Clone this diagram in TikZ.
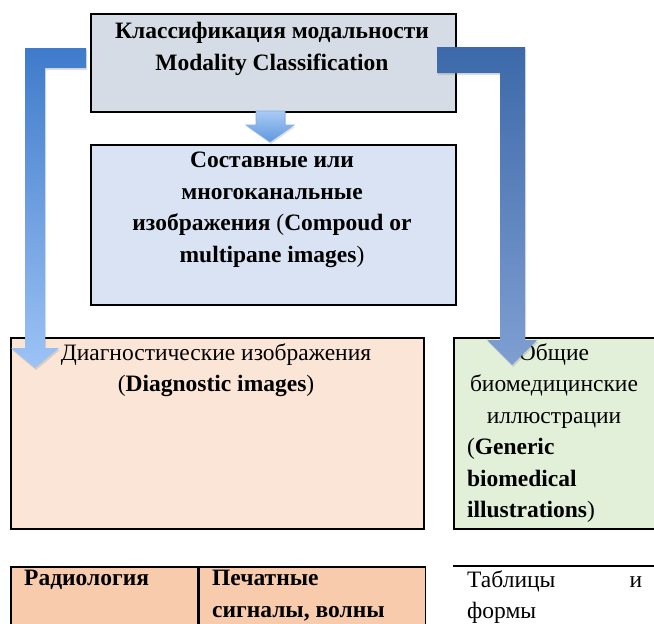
\documentclass[tikz,border=0pt]{standalone}
\usepackage{fontspec}
\setmainfont{Liberation Serif}
\usetikzlibrary{positioning, shadows}
\definecolor{modalfill}{HTML}{D6DCE5}
\definecolor{compfill}{HTML}{DAE3F3}
\definecolor{diagfill}{HTML}{FBE5D6}
\definecolor{genfill}{HTML}{E2F0D9}
\definecolor{radfill}{HTML}{F8CBAD}
\definecolor{ltop}{HTML}{3F7BCB}
\definecolor{lbot}{HTML}{9CC3F5}
\definecolor{rtop}{HTML}{3C69A9}
\definecolor{rbot}{HTML}{7F9FD2}
\definecolor{stop}{HTML}{A9CBF5}
\definecolor{sbot}{HTML}{5F97DD}
\tikzset{
  box/.style = {draw=black, line width=1.7pt, anchor=north west, inner sep=0pt},
  txt/.style = {inner sep=0pt, anchor=north, align=center,
    font=\fontsize{23.5}{31.5}\selectfont},
  txtb/.style = {txt, font=\fontsize{23.5}{31.5}\selectfont\bfseries},
  blockarrow/.style = {drop shadow={opacity=0.25, shadow xshift=1pt,
    shadow yshift=-2pt}}
}

\begin{document}
\begin{tikzpicture}[x=1pt, y=-1pt]
\useasboundingbox (0,0) rectangle (654,624);
\clip (0,0) rectangle (654,624);
% boxes
\node[box, fill=modalfill, minimum width=365pt, minimum height=98pt] (modal) at (90,13) {};
\node[box, fill=compfill, minimum width=365pt, minimum height=160pt] (comp) at (90,144) {};
\node[box, fill=diagfill, minimum width=413pt, minimum height=191pt] (diag) at (10,337) {};
\node[box, fill=genfill, minimum width=210pt, minimum height=191pt] (gen) at (453,337) {};
\node[box, fill=radfill, minimum width=187pt, minimum height=70pt] (radio) at (10,566) {};
\node[box, fill=radfill, minimum width=226pt, minimum height=70pt] (signal) at (radio.north east) {};
\coordinate (tabstart) at (453,566);
\coordinate (tabend) at (660,566);
\draw[line width=1.7pt] (tabstart) -- (tabend);

% texts
\node[txtb] (modaltxt) at (272,22) {Классификация модальности\\Modality Classification};
\node[txt] (comptxt) at (272,152) {\textbf{Составные или}\\\textbf{многоканальные}\\
  \textbf{изображения} (\textbf{Compoud or}\\\textbf{multipane images})};
\node[txt] (diagtxt) at (216,343) {Диагностические изображения\\(\textbf{Diagnostic images})};
\node[txt] (gentxt) at (554,343) {Общие\\биомедицинские\\иллюстрации\\
  \makebox[174pt][l]{(\textbf{Generic}}\\\makebox[174pt][l]{\textbf{biomedical}}\\
  \makebox[174pt][l]{\textbf{illustrations})}};
\node[txtb, anchor=north west] (radiotxt) at (24,570) {Радиология};
\node[txtb, anchor=north west, align=left] (signaltxt) at (212,570) {Печатные\\сигналы, волны};
\node[txt, anchor=north west, align=left] (tabletxt) at (467,570)
  {\makebox[175pt]{Таблицы\hfill и}\\\makebox[175pt][l]{формы}};

% arrows
\path[blockarrow, top color=stop, bottom color=sbot, draw=sbot!80, line width=0.6pt]
  (256,111) -- (285,111) -- (285,125) -- (294,125) -- (270,142) -- (246,125)
  -- (256,125) -- cycle;
\path[blockarrow, top color=ltop, bottom color=lbot]
  (86,48) -- (25,48) -- (25,348) -- (11,348) -- (35,368) -- (59,348)
  -- (45,348) -- (45,68) -- (86,68) -- cycle;
\path[blockarrow, top color=rtop, bottom color=rbot]
  (437,47) -- (525,47) -- (525,340) -- (537,340) -- (512,365) -- (487,340)
  -- (500,340) -- (500,73) -- (437,73) -- cycle;
\end{tikzpicture}
\end{document}
